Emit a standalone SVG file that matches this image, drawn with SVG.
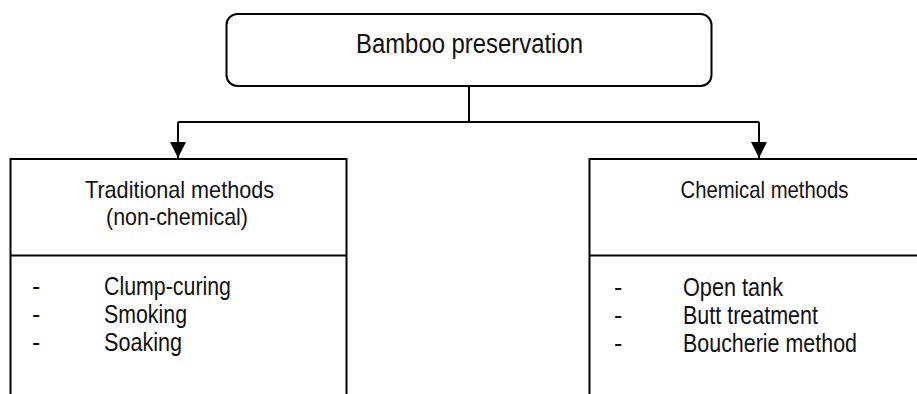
<svg xmlns="http://www.w3.org/2000/svg" width="917" height="394" viewBox="0 0 917 394">
  <style>
    .box { fill: #ffffff; stroke: #000000; stroke-width: 2; }
    .rule { stroke: #000000; stroke-width: 2; fill: none; }
    .link { stroke: #000000; stroke-width: 2; fill: none; }
    text { font-family: "Liberation Sans Narrow", "Liberation Sans", Arial, sans-serif; fill: #111111; }
    .title { font-size: 27px; }
    .head { font-size: 24px; }
    .item { font-size: 25px; }
  </style>
  <defs>
    <marker id="arrow" viewBox="0 0 16 16" refX="16" refY="8" markerWidth="16" markerHeight="16" markerUnits="userSpaceOnUse" orient="auto">
      <path d="M0,0 L16,8 L0,16 Z" fill="#000000"/>
    </marker>
  </defs>

  <rect width="917" height="394" fill="#ffffff"/>

  <!-- connectors -->
  <g id="connectors">
    <path class="link" d="M469,86 V122"/>
    <path class="link" d="M178,122 H759"/>
    <path class="link" d="M178,122 V158" marker-end="url(#arrow)"/>
    <path class="link" d="M759,122 V158" marker-end="url(#arrow)"/>
  </g>

  <!-- root node -->
  <g id="root">
    <rect class="box" x="226.5" y="14" width="485" height="72" rx="11" ry="11"/>
    <text class="title" x="469.5" y="53" text-anchor="middle" textLength="227" lengthAdjust="spacingAndGlyphs">Bamboo preservation</text>
  </g>

  <!-- traditional methods -->
  <g id="traditional">
    <rect class="box" x="10.5" y="159" width="336" height="260"/>
    <line class="rule" x1="10.5" y1="255.5" x2="346.5" y2="255.5"/>
    <text class="head" x="179.5" y="198" text-anchor="middle" textLength="189" lengthAdjust="spacingAndGlyphs">Traditional methods</text>
    <text class="head" x="177" y="225" text-anchor="middle" textLength="142" lengthAdjust="spacingAndGlyphs">(non-chemical)</text>
    <text class="item" x="32" y="295">-</text>
    <text class="item" x="104" y="295" textLength="127" lengthAdjust="spacingAndGlyphs">Clump-curing</text>
    <text class="item" x="32" y="323">-</text>
    <text class="item" x="104" y="323" textLength="83" lengthAdjust="spacingAndGlyphs">Smoking</text>
    <text class="item" x="32" y="351">-</text>
    <text class="item" x="104" y="351" textLength="78" lengthAdjust="spacingAndGlyphs">Soaking</text>
  </g>

  <!-- chemical methods -->
  <g id="chemical">
    <rect class="box" x="589.5" y="159" width="340" height="260"/>
    <line class="rule" x1="589.5" y1="255.5" x2="929.5" y2="255.5"/>
    <text class="head" x="764.5" y="198" text-anchor="middle" textLength="168" lengthAdjust="spacingAndGlyphs">Chemical methods</text>
    <text class="item" x="614" y="296">-</text>
    <text class="item" x="683" y="296" textLength="100" lengthAdjust="spacingAndGlyphs">Open tank</text>
    <text class="item" x="614" y="324">-</text>
    <text class="item" x="683" y="324" textLength="135" lengthAdjust="spacingAndGlyphs">Butt treatment</text>
    <text class="item" x="614" y="352">-</text>
    <text class="item" x="683" y="352" textLength="174" lengthAdjust="spacingAndGlyphs">Boucherie method</text>
  </g>
</svg>
